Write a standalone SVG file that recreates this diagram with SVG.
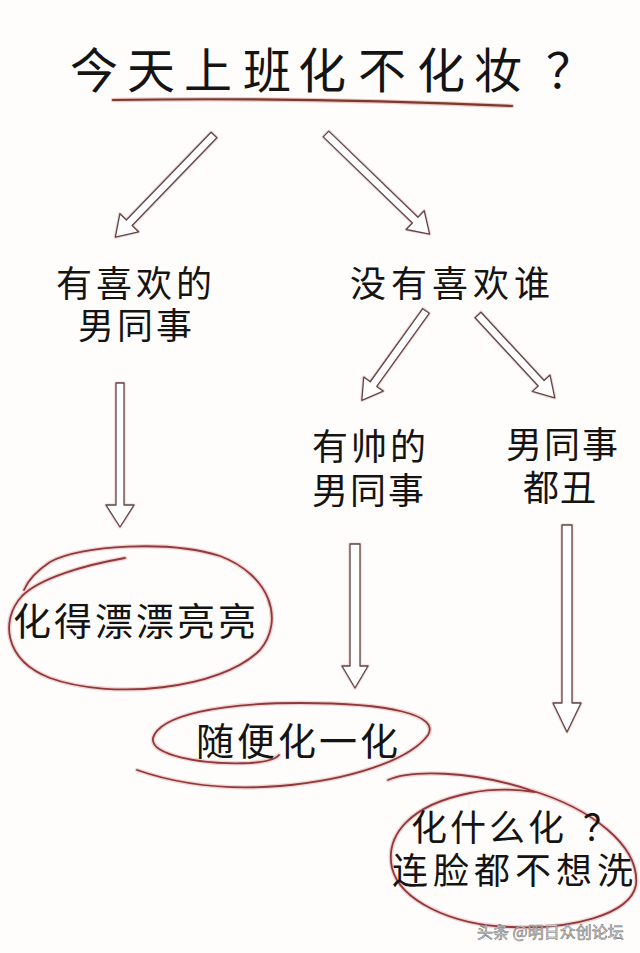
<svg xmlns="http://www.w3.org/2000/svg" width="640" height="953" viewBox="0 0 640 953">
<style>
.t{font-family:"Noto Sans CJK SC","Noto Sans CJK JP",sans-serif;fill:#141414;}
.arrow{fill:#ffffff;stroke:#5e4848;stroke-width:1.3;stroke-linejoin:round;}
.arrowglow{fill:none;stroke:#f2cfcf;stroke-width:3.2;stroke-linejoin:round;}
.ring{fill:none;stroke:#8e3a3c;stroke-width:1.8;stroke-linecap:round;}
.ringglow{fill:none;stroke:#f3d2d2;stroke-width:4.5;stroke-linecap:round;}
.wm{font-family:"Noto Sans CJK SC",sans-serif;font-size:16px;fill:#e2e2e2;stroke:#7a7a7a;stroke-width:0.6;}
</style>
<rect width="640" height="953" fill="#fefdfc"/>

<g id="title">
<text class="t" font-size="48" y="88" x="70 127 184 243 298 358 417 474 546">今天上班化不化妆？</text>
<path d="M113,100 Q300,97 512,106" fill="none" stroke="#f0c6c0" stroke-width="4.5" stroke-linecap="round"/>
<path d="M113,100 Q300,97 512,106" fill="none" stroke="#7a3a30" stroke-width="2.2" stroke-linecap="round"/>
</g>

<g id="connectors">
<g transform="translate(214,135) rotate(44)">
<path class="arrowglow" d="M-4,0 L4,0 L4,122 L13,122 L0,142 L-13,122 L-4,122 Z"/>
<path class="arrow" d="M-4,0 L4,0 L4,122 L13,122 L0,142 L-13,122 L-4,122 Z"/>
</g>
<g transform="translate(326,134) rotate(-46)">
<path class="arrowglow" d="M-4,0 L4,0 L4,124 L13,124 L0,144 L-13,124 L-4,124 Z"/>
<path class="arrow" d="M-4,0 L4,0 L4,124 L13,124 L0,144 L-13,124 L-4,124 Z"/>
</g>
<g transform="translate(426,311) rotate(35.7)">
<path class="arrowglow" d="M-4,0 L4,0 L4,90 L12,90 L0,110 L-12,90 L-4,90 Z"/>
<path class="arrow" d="M-4,0 L4,0 L4,90 L12,90 L0,110 L-12,90 L-4,90 Z"/>
</g>
<g transform="translate(478,315) rotate(-42.8)">
<path class="arrowglow" d="M-4,0 L4,0 L4,93 L12,93 L0,113 L-12,93 L-4,93 Z"/>
<path class="arrow" d="M-4,0 L4,0 L4,93 L12,93 L0,113 L-12,93 L-4,93 Z"/>
</g>
<g transform="translate(120,383)">
<path class="arrowglow" d="M-4,0 L4,0 L4,122 L14,122 L0,144 L-14,122 L-4,122 Z"/>
<path class="arrow" d="M-4,0 L4,0 L4,122 L14,122 L0,144 L-14,122 L-4,122 Z"/>
</g>
<g transform="translate(355,544)">
<path class="arrowglow" d="M-5,0 L5,0 L5,122 L13,122 L0,144 L-13,122 L-5,122 Z"/>
<path class="arrow" d="M-5,0 L5,0 L5,122 L13,122 L0,144 L-13,122 L-5,122 Z"/>
</g>
<g transform="translate(567,525)">
<path class="arrowglow" d="M-5,0 L5,0 L5,178 L14,178 L0,207 L-14,178 L-5,178 Z"/>
<path class="arrow" d="M-5,0 L5,0 L5,178 L14,178 L0,207 L-14,178 L-5,178 Z"/>
</g>
</g>

<g id="n-like">
<text class="t" font-size="36"><tspan x="56" y="297" letter-spacing="4">有喜欢的</tspan><tspan x="78" y="339" letter-spacing="3">男同事</tspan></text>
</g>

<g id="n-nolike">
<text class="t" font-size="36" letter-spacing="5" x="350" y="297">没有喜欢谁</text>
</g>

<g id="n-handsome">
<text class="t" font-size="36"><tspan x="312" y="460" letter-spacing="3">有帅的</tspan><tspan x="312" y="504" letter-spacing="2">男同事</tspan></text>
</g>

<g id="n-ugly">
<text class="t" font-size="36"><tspan x="506" y="458" letter-spacing="2">男同事</tspan><tspan x="523" y="501" letter-spacing="1">都丑</tspan></text>
</g>

<g id="r-pretty">
<path class="ringglow" d="M125,558 C85,565 40,578 22,596 C0,620 4,660 50,678 C110,700 220,690 260,650 C285,620 270,575 220,556 C170,540 80,545 50,562 C38,570 28,580 24,590"/>
<path class="ring" d="M125,558 C85,565 40,578 22,596 C0,620 4,660 50,678 C110,700 220,690 260,650 C285,620 270,575 220,556 C170,540 80,545 50,562 C38,570 28,580 24,590"/>
<text class="t" font-size="38" letter-spacing="3" x="13" y="635">化得漂漂亮亮</text>
</g>

<g id="r-casual">
<path class="ringglow" d="M137,770 C180,785 230,790 280,786 C350,780 410,760 428,735 C440,715 390,703 300,703 C220,703 160,715 153,738 C150,755 200,765 250,763 C265,762 275,760 279,755"/>
<path class="ring" d="M137,770 C180,785 230,790 280,786 C350,780 410,760 428,735 C440,715 390,703 300,703 C220,703 160,715 153,738 C150,755 200,765 250,763 C265,762 275,760 279,755"/>
<text class="t" font-size="38" letter-spacing="3" x="196" y="755">随便化一化</text>
</g>

<g id="r-none">
<path class="ringglow" d="M388,780 C410,770 470,770 530,790 C590,808 640,845 636,885 C630,915 570,930 510,927 C450,925 400,900 392,868 C385,835 410,805 470,793 C495,788 515,789 535,792"/>
<path class="ring" d="M388,780 C410,770 470,770 530,790 C590,808 640,845 636,885 C630,915 570,930 510,927 C450,925 400,900 392,868 C385,835 410,805 470,793 C495,788 515,789 535,792"/>
<text class="t" font-size="36"><tspan x="411" y="841" letter-spacing="3">化什么化</tspan><tspan dx="16">？</tspan><tspan x="392" y="884" letter-spacing="5">连脸都不想洗</tspan></text>
</g>

<text class="wm" x="477" y="938">头条 @明日众创论坛</text>
</svg>
